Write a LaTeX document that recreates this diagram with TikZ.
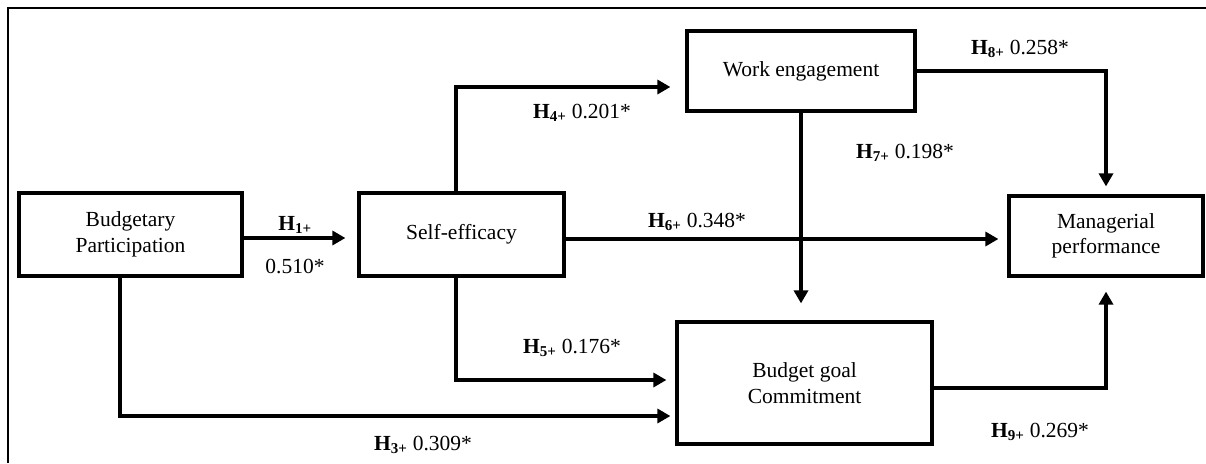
\documentclass[tikz,border=0pt]{standalone}
\usepackage{fontspec}
\setmainfont{Liberation Serif}
\usetikzlibrary{arrows.meta,calc}
\begin{document}
\begin{tikzpicture}[x=1pt,y=-1pt,
  box/.style={draw,line width=3.2pt,inner sep=0pt,align=center,
    font=\fontsize{21.5}{25.5}\selectfont},
  arr/.style={line width=3.2pt,-{Triangle[length=13pt,width=14pt]}},
  lbl/.style={font=\fontsize{21.5}{25.5}\selectfont,inner sep=0pt}]
\useasboundingbox (0,0) rectangle (1206,463);
\draw[line width=2.8pt] (8,463) -- (8,8) -- (1206,8);
\node[box,minimum width=223pt,minimum height=83pt] (BP) at (130.5,234.5) {Budgetary\\Participation};
\node[box,minimum width=205pt,minimum height=83pt] (SE) at (461.5,234.5) {Self-efficacy};
\node[box,minimum width=228pt,minimum height=80pt] (WE) at (801,71) {Work engagement};
\node[box,minimum width=255pt,minimum height=122pt] (BGC) at (804.5,383) {Budget goal\\Commitment};
\node[box,minimum width=194pt,minimum height=80pt] (MP) at (1106,236) {Managerial\\performance};
% connectors
\draw[arr,shorten >=12pt] ([yshift=-3.5pt]BP.east) -- ([yshift=-3.5pt]BP.east -| SE.west);
\draw[arr,shorten >=15pt] ([xshift=-5.5pt]SE.north) |- ([yshift=-16pt]WE.west);
\draw[arr,shorten >=9pt] ([yshift=-4.5pt]SE.east) -- ([yshift=-4.5pt]SE.east -| MP.west);
\draw[arr,shorten >=9pt] ([xshift=-5.5pt]SE.south) |- ([yshift=3pt]BGC.west);
\draw[arr,shorten >=5pt] ([xshift=-10.5pt]BP.south) |- ([yshift=-33pt]BGC.west);
\draw[arr,shorten >=17pt] (WE.south) -- (WE.south |- BGC.north);
\draw[arr,shorten >=8pt] (WE.east) -| (MP.north);
\draw[arr,shorten >=14pt] ([yshift=-5pt]BGC.east) -| (MP.south);
% labels
\node[lbl] (l1) at (295,225) {\textbf{H\textsubscript{1+}}};
\node[lbl] (l1b) at (295,266) {0.510*};
\node[lbl] (l4) at (582,113) {\textbf{H\textsubscript{4+}} 0.201*};
\node[lbl] (l6) at (697,222) {\textbf{H\textsubscript{6+}} 0.348*};
\node[lbl] (l5) at (572,348) {\textbf{H\textsubscript{5+}} 0.176*};
\node[lbl] (l3) at (423,445) {\textbf{H\textsubscript{3+}} 0.309*};
\node[lbl] (l7) at (905,153) {\textbf{H\textsubscript{7+}} 0.198*};
\node[lbl] (l8) at (1020,49) {\textbf{H\textsubscript{8+}} 0.258*};
\node[lbl] (l9) at (1040,432) {\textbf{H\textsubscript{9+}} 0.269*};
\end{tikzpicture}
\end{document}
